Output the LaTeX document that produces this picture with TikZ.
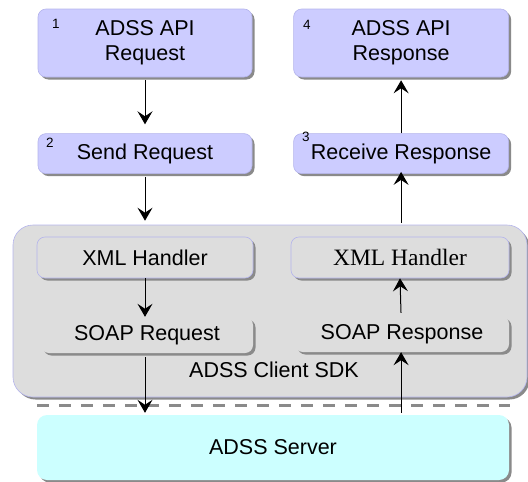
\documentclass[tikz,border=0pt]{standalone}
\usepackage{fontspec}
\setmainfont{Liberation Sans}
\newfontfamily\serifxml{Liberation Serif}
\usetikzlibrary{positioning,shadows,arrows.meta}
\definecolor{lavender}{HTML}{CCCCFF}
\definecolor{lavline}{HTML}{B4B4EC}
\definecolor{sdkgray}{HTML}{DDDDDD}
\definecolor{servercyan}{HTML}{CCFFFF}
\definecolor{shadegray}{HTML}{8A8A8A}
\begin{document}
\begin{tikzpicture}[x=1pt,y=-1pt,
  every node/.style={font=\fontsize{21.5pt}{25pt}\selectfont},
  shade/.style={drop shadow={shadow xshift=2.5pt,shadow yshift=-2.5pt,fill=shadegray,opacity=1}},
  api node/.style={rectangle,rounded corners=8pt,fill=lavender,draw=lavline,line width=0.6pt,shade,
    minimum width=214pt,inner sep=0pt,align=center},
  sdk node/.style={rectangle,rounded corners=8pt,fill=sdkgray,shade,minimum width=214pt,inner sep=0pt},
  num/.style={inner sep=0pt,font=\fontsize{13.5pt}{15pt}\selectfont},
  flow/.style={line width=1pt,-{Stealth[length=13pt,width=15pt,inset=5pt]}}]
  \useasboundingbox (0,0) rectangle (528,482);

  % client SDK container
  \node[rectangle,rounded corners=20pt,fill=sdkgray,draw=lavline,line width=0.6pt,shade,
    minimum width=514pt,minimum height=172pt] (sdk) at (270,311) {};
  \node (sdklabel) at (274,370) {ADSS Client SDK};

  % API side
  \node[api node,minimum height=68pt] (req1) at (145,43) {ADSS API\\Request};
  \node[api node,minimum height=40pt] (req2) [below=56pt of req1] {Send Request};
  \node[api node,minimum height=68pt,minimum width=215pt] (resp4) [right=41pt of req1] {ADSS API\\Response};
  \node[api node,minimum height=40pt,minimum width=215pt] (resp3) [below=56pt of resp4] {Receive Response};
  \node[num] (n1) at (56,24) {1};
  \node[num] (n2) at (50,143) {2};
  \node[num] (n4) at (307,25) {4};
  \node[num] (n3) at (306,137) {3};

  % inside the SDK
  \node[sdk node,draw=lavline,line width=0.6pt,minimum width=216pt,minimum height=41pt] (xmlL) at (145,257.5) {XML Handler};
  \node[sdk node,minimum width=212pt,minimum height=36pt] (soapReq) at (147,335) {SOAP Request};
  \node[sdk node,draw=lavline,line width=0.6pt,minimum width=218pt,minimum height=41pt,
    font=\serifxml\fontsize{23.5pt}{26pt}\selectfont] (xmlR) at (400,257.5) {XML Handler};
  \node[sdk node,minimum width=214pt,minimum height=36pt] (soapResp) at (402,334) {SOAP Response};

  % server
  \draw[shadegray,line width=3pt,dash pattern=on 12pt off 10pt] (37,405) coordinate (sepL) -- (510,405) coordinate (sepR);
  \node[rectangle,rounded corners=10pt,fill=servercyan,shade,minimum width=472pt,minimum height=65pt] (server) at (273,447.5) {ADSS Server};

  % request path
  \coordinate (sdkin) at (req2.south |- sdk.north);
  \coordinate (sdkout) at (resp3.south |- sdk.north);
  \draw[flow,shorten <=2.5pt,shorten >=9pt] (req1) -- (req2);
  \draw[flow,shorten <=3pt,shorten >=4pt] (req2.south) -- (sdkin);
  \draw[flow] (xmlL.south) -- (xmlL.south |- soapReq.north);
  \draw[flow,shorten <=4pt,shorten >=2pt] (soapReq.south -| req1.south) -- (server.north -| req1.south);

  % response path
  \draw[flow,shorten <=2pt] (server.north -| resp3.south) -- (soapResp.south -| resp3.south);
  \draw[flow,shorten <=3pt] (soapResp.north -| resp3.south) -- (xmlR.south);
  \draw[flow,shorten <=2pt,shorten >=-2pt] (sdkout) -- (resp3.south);
  \draw[flow,shorten >=3pt] (resp3) -- (resp4);
\end{tikzpicture}
\end{document}
